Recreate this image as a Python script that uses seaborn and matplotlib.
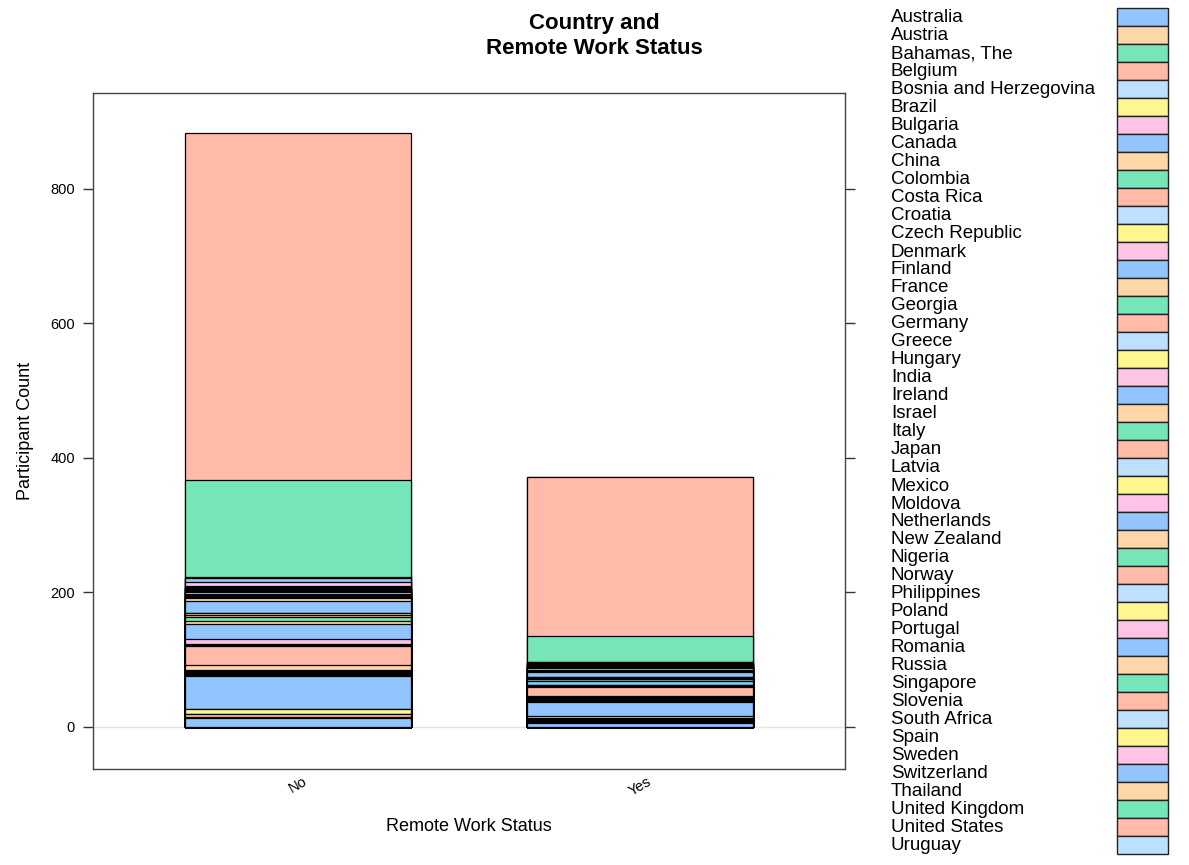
import numpy as np
import pandas as pd
import matplotlib
matplotlib.use("Agg")
import matplotlib.pyplot as plt
import seaborn as sns
from matplotlib.patches import Rectangle

# -----------------------------
# data
# -----------------------------
status = ["No", "Yes"]

countries = [
    "Australia", "Austria", "Bahamas, The", "Belgium", "Bosnia and Herzegovina",
    "Brazil", "Bulgaria", "Canada", "China", "Colombia", "Costa Rica", "Croatia",
    "Czech Republic", "Denmark", "Finland", "France", "Georgia", "Germany",
    "Greece", "Hungary", "India", "Ireland", "Israel", "Italy", "Japan",
    "Latvia", "Mexico", "Moldova", "Netherlands", "New Zealand", "Nigeria",
    "Norway", "Philippines", "Poland", "Portugal", "Romania", "Russia",
    "Singapore", "Slovenia", "South Africa", "Spain", "Sweden", "Switzerland",
    "Thailand", "United Kingdom", "United States", "Uruguay",
]

no_counts = [
    13, 2, 0, 4, 1, 6, 1, 49, 1, 1, 1, 1, 2, 1, 1, 8, 0, 29, 1, 1, 8, 22, 4, 7,
    2, 1, 2, 1, 17, 5, 1, 2, 1, 2, 2, 2, 2, 1, 1, 2, 1, 7, 6, 1, 144, 516, 0,
]

yes_counts = [
    6, 2, 1, 2, 1, 2, 2, 21, 1, 1, 1, 1, 1, 1, 1, 1, 1, 14, 1, 1, 1, 5, 1, 2,
    1, 1, 1, 1, 7, 1, 1, 1, 0, 2, 1, 1, 1, 0, 1, 1, 2, 1, 1, 1, 38, 236, 1,
]

palette7 = ["#92C5FF", "#FFD6A8", "#76E5B7", "#FFBAA8", "#BEE0FF", "#FFF68F", "#FFC3E8"]
colors = [palette7[i % 7] for i in range(len(countries))]

# -----------------------------
# long table + cumulative heights
# -----------------------------
df = pd.DataFrame({
    "status": np.repeat(status, len(countries)),
    "country": countries * 2,
    "count": no_counts + yes_counts,
})
df["cum"] = df.groupby("status")["count"].cumsum()

sns.set_theme(style="white")
plt.rcParams["font.family"] = ["Liberation Sans", "DejaVu Sans"]
plt.rcParams["text.color"] = "black"
plt.rcParams["axes.labelcolor"] = "black"
plt.rcParams["xtick.color"] = "black"
plt.rcParams["ytick.color"] = "black"

fig = plt.figure(figsize=(11.89, 8.65), dpi=100)
ax = fig.add_axes([93 / 1189, 1 - 769 / 865, 752 / 1189, 676 / 865])

ax.axhline(0, color="#e4e4e4", lw=1, zorder=0)

# draw from the top segment down so each lower one covers the previous
for i in range(len(countries) - 1, -1, -1):
    sub = df[(df["country"] == countries[i]) & (df["count"] > 0)]
    if sub.empty:
        continue
    sns.barplot(data=sub, x="status", y="cum", order=status, color=colors[i],
                saturation=1, width=0.66, edgecolor="black", linewidth=0.9,
                errorbar=None, ax=ax)

ax.set_xlim(-0.6, 1.6)
ax.set_ylim(-62.5, 942.7)
ax.set_yticks([0, 200, 400, 600, 800])
ax.tick_params(axis="y", direction="out", length=7, width=1, color="#333333",
               left=True, right=True, labelleft=True, labelright=False,
               labelsize=10.5, pad=6)
ax.tick_params(axis="x", length=0, labelsize=10.5, pad=4)
for lab in ax.get_xticklabels():
    lab.set_rotation(30)
    lab.set_ha("center")
for s in ax.spines.values():
    s.set_color("#444444")
    s.set_linewidth(1)

ax.set_xlabel("Remote Work Status", fontsize=13, labelpad=14)
ax.set_ylabel("Participant Count", fontsize=13, labelpad=12)

fig.text(594 / 1189, 1 - 36 / 865, "Country and\nRemote Work Status",
         ha="center", va="center", fontsize=16, fontweight="bold", linespacing=1.25)

# -----------------------------
# key on the right
# -----------------------------
row_h = 18.0
for i, name in enumerate(countries):
    yc = 17 + i * row_h
    fig.text(891 / 1189, 1 - (yc + 1) / 865, name, ha="left", va="center", fontsize=13.5)
    fig.patches.append(Rectangle((1117 / 1189, 1 - (yc + row_h / 2) / 865),
                                 51 / 1189, row_h / 865, transform=fig.transFigure,
                                 facecolor=colors[i], edgecolor="#222222", lw=1))

fig.savefig("out.png", dpi=100)
